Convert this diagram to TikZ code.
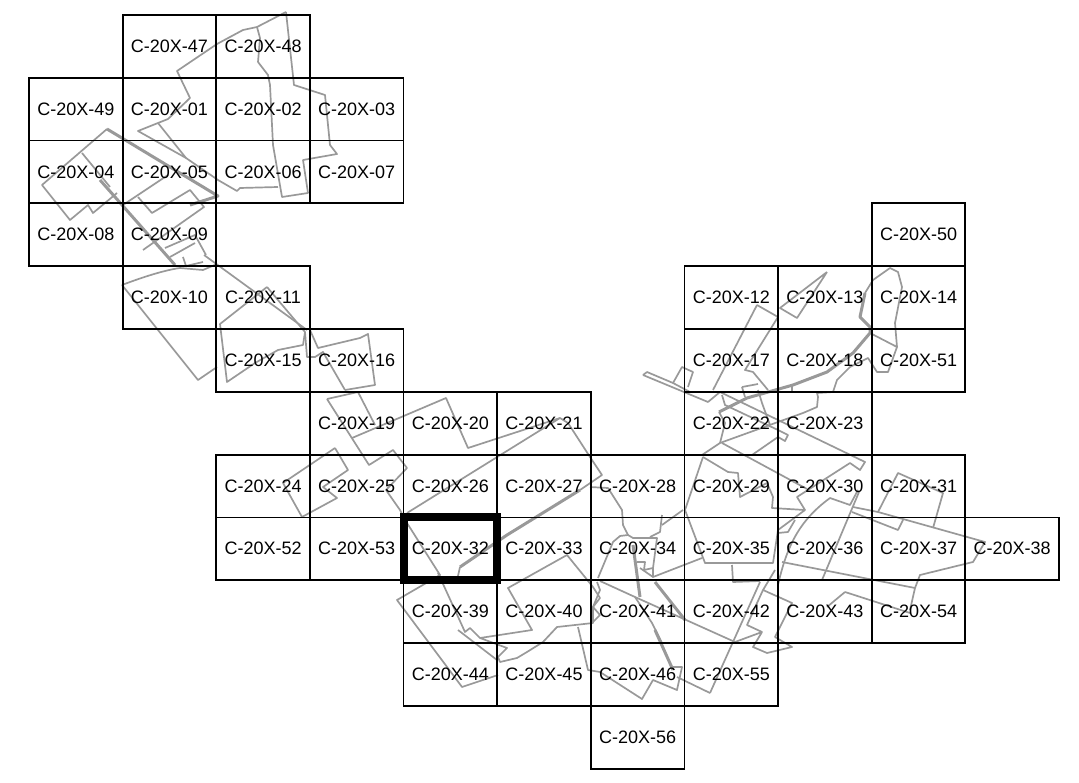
\documentclass[tikz,border=0pt]{standalone}
\usepackage{fontspec}
\setmainfont{Liberation Sans}
\definecolor{tractgray}{rgb}{0.6, 0.6, 0.6}
\tikzset{
  tract/.style={draw=tractgray, line width=1.7pt, line join=round},
  tractthick/.style={draw=tractgray, line width=3pt, line join=round},
  mapcell/.style={draw=black, line width=1.8pt, minimum width=93.64pt, minimum height=62.8pt, inner sep=0pt, outer sep=0pt, font=\fontsize{18}{20}\selectfont},
  selcell/.style={draw=black, line width=8pt}
}
\begin{document}
\begin{tikzpicture}[x=1pt, y=-1pt]
  \useasboundingbox (0,0) rectangle (1079,783);
  % outlines north-west
  \draw[tract] (286,12) -- (257,27) -- (243,30) -- (217,44) -- (177,71) -- (190,98) -- (168,119) -- (138,131) -- (186,158) -- (218,180) -- (237,191) -- (240,188) -- (278,187);
  \draw[tract] (286,12) -- (294,85) -- (325,95) -- (330,145) -- (337,154) -- (303,160) -- (308,193) -- (282,197) -- (273,145) -- (270,85) -- (268,75) -- (258,62) -- (260,38) -- (257,27);
  \draw[tract] (158,123) -- (186,158);
  \draw[tractthick] (107,129) -- (218,196) -- (190,205);
  \draw[tract] (107,129) -- (42,185) -- (70,220) -- (88,205) -- (93,213) -- (117,193);
  \draw[tract] (82,153) -- (110,187);
  \draw[tractthick] (100,180) -- (175,265);
  \draw[tract] (123,205) -- (168,175);
  \draw[tract] (138,197) -- (152,213) -- (190,190) -- (204,207) -- (143,250);
  \draw[tract] (165,248) -- (195,235) -- (206,255);
  \draw[tract] (170,257) -- (195,243);
  \draw[tract] (183,257) -- (186,266) -- (203,262);
  \draw[tract] (204,255) -- (307,330);
  % outlines centre
  \draw[tract] (122,285) .. controls (143,277) and (165,270) .. (180,268) -- (203,270) -- (217,264);
  \draw[tract] (122,285) -- (198,380) -- (217,367);
  \draw[tract] (267,287) -- (220,324) -- (227,382) -- (255,363) -- (278,350) -- (303,345) -- (305,332) -- (267,287);
  \draw[tract] (305,332) -- (307,357) -- (315,357) -- (323,352) -- (345,390);
  \draw[tract] (310,330) -- (318,348) -- (360,338) -- (368,334) -- (375,385) -- (345,390);
  \draw[tract] (327,399) -- (358,392) -- (375,425);
  \draw[tract] (327,399) -- (369,465) -- (393,450) -- (407,468) -- (386,490) -- (400,510) -- (403,516);
  \draw[tract] (352,438) -- (446,398) -- (468,448) -- (560,418) -- (568,423) -- (590,457) -- (602,475) -- (580,490);
  \draw[tract] (335,448) -- (348,470) -- (323,487) -- (337,498) -- (302,517) -- (283,483) -- (335,448);
  \draw[tract] (407,513) -- (560,418);
  \draw[tractthick] (580,490) -- (507,535) -- (460,567);
  \draw[tract] (460,567) -- (458,576);
  % outlines south
  \draw[tract] (407,523) -- (440,575) -- (397,600) -- (462,687) -- (498,675);
  \draw[tract] (438,573) -- (465,632) -- (470,628) -- (480,638) -- (532,630) -- (508,588) -- (567,555) -- (593,587) -- (600,598) -- (593,607) -- (593,623) -- (557,627) -- (543,642) -- (527,652) -- (517,658) -- (500,662) -- (498,657) -- (507,648) -- (480,638);
  \draw[tract] (458,630) -- (497,660);
  \draw[tract] (578,627) -- (588,670) -- (600,672) -- (642,699) -- (653,680) -- (677,690) -- (682,667) -- (670,667);
  \draw[tract] (600,581) -- (635,597) -- (735,642) -- (762,632) -- (753,647) -- (767,653) -- (792,647) -- (775,637) -- (792,603) -- (763,590) -- (775,570);
  \draw[tract] (762,632) -- (747,625) -- (763,590);
  \draw[tract] (710,693) -- (760,582);
  \draw[tract] (677,677) -- (710,693);
  % outlines east
  \draw[tract] (703,457) -- (685,510) -- (705,563) -- (773,563) -- (778,530);
  \draw[tract] (703,457) -- (728,472) -- (738,473) -- (740,497) -- (767,483) -- (773,497) -- (772,508) -- (805,510) -- (778,530);
  \draw[tract] (732,565) -- (733,582) -- (760,581);
  \draw[tract] (778,533) -- (788,532) -- (795,520);
  \draw[tract] (778,585) .. controls (787,545) and (800,520) .. (830,498) -- (850,505) -- (858,490);
  \draw[tract] (643,375) -- (708,402) -- (720,392) -- (865,462) -- (860,470) -- (850,463) -- (797,497) -- (805,510);
  \draw[tract] (643,375) -- (647,372) -- (673,383) -- (682,367) -- (693,372) -- (688,387);
  \draw[tract] (673,383) -- (690,392);
  \draw[tract] (722,443) -- (807,489);
  \draw[tract] (827,272) -- (780,308) -- (797,318) -- (827,272);
  \draw[tract] (757,305) -- (713,390);
  \draw[tract] (757,305) -- (778,317) -- (745,370) -- (753,372) -- (768,390);
  \draw[tract] (742,387) -- (758,384);
  \draw[tract] (742,387) -- (745,397);
  \draw[tractthick] (719,412) -- (747,398) -- (793,385) -- (827,372) -- (853,353) -- (870,333) -- (870,327) -- (860,317) -- (865,293);
  \draw[tract] (865,293) -- (873,280) -- (890,268) -- (898,272) -- (902,287) -- (895,323) -- (897,347) -- (870,333);
  \draw[tract] (897,347) -- (888,372) -- (877,372) -- (868,358) -- (850,367) -- (837,380) -- (833,392) -- (817,393) -- (818,397) -- (817,407) -- (803,413) -- (778,422) -- (720,443) -- (702,455);
  \draw[tract] (719,412) -- (725,423) -- (720,443);
  \draw[tract] (722,395) -- (725,405) -- (778,430) -- (788,435) -- (785,441) -- (778,437) -- (752,455);
  \draw[tract] (758,390) -- (762,403) -- (770,425);
  \draw[tract] (792,385) -- (792,392);
  \draw[tract] (878,512) -- (898,473) -- (943,493) -- (933,528);
  \draw[tract] (853,507) -- (878,512) -- (985,542) -- (973,562) -- (920,575) -- (915,588) -- (910,610);
  \draw[tract] (852,512) -- (898,530) -- (903,520);
  \draw[tract] (859,492) -- (822,580);
  \draw[tract] (782,562) -- (915,588);
  \draw[tract] (845,592) -- (827,607);
  \draw[tract] (845,592) -- (910,613);
  % outlines middle
  \draw[tract] (590,487) -- (608,488) -- (622,510) -- (623,525) -- (628,535);
  \draw[tract] (598,578) -- (613,542) -- (620,536) -- (628,535) -- (633,538) -- (657,538) -- (653,568) -- (653,577) -- (702,558);
  \draw[tractthick] (633,545) -- (640,597);
  \draw[tract] (637,562) -- (645,562) -- (644,570) -- (653,568);
  \draw[tract] (640,568) -- (653,577);
  \draw[tractthick] (655,582) -- (685,620);
  \draw[tract] (662,515) -- (660,532) -- (650,537);
  \draw[tract] (662,525) -- (683,510);
  \draw[tract] (597,582) -- (600,590) -- (593,607) -- (600,615) -- (592,623);
  \draw[tract] (635,597) -- (652,623) -- (662,643);
  \draw[tractthick] (655,630) -- (673,670);
  % map sheets
  \foreach \cx/\cy/\ctext in {1/0/47,2/0/48,0/1/49,1/1/01,2/1/02,3/1/03,0/2/04,1/2/05,2/2/06,3/2/07,0/3/08,1/3/09,9/3/50,
    1/4/10,2/4/11,7/4/12,8/4/13,9/4/14,2/5/15,3/5/16,7/5/17,8/5/18,9/5/51,3/6/19,4/6/20,5/6/21,7/6/22,8/6/23,
    2/7/24,3/7/25,4/7/26,5/7/27,6/7/28,7/7/29,8/7/30,9/7/31,2/8/52,3/8/53,4/8/32,5/8/33,6/8/34,7/8/35,8/8/36,9/8/37,10/8/38,
    4/9/39,5/9/40,6/9/41,7/9/42,8/9/43,9/9/54,4/10/44,5/10/45,6/10/46,7/10/55,6/11/56}
    \node[mapcell] (sheet\ctext) at ({\cx*93.64+75.8},{\cy*62.8+46.4}) {C-20X-\ctext};
  \draw[selcell] (sheet32.north west) rectangle (sheet32.south east);
\end{tikzpicture}
\end{document}
